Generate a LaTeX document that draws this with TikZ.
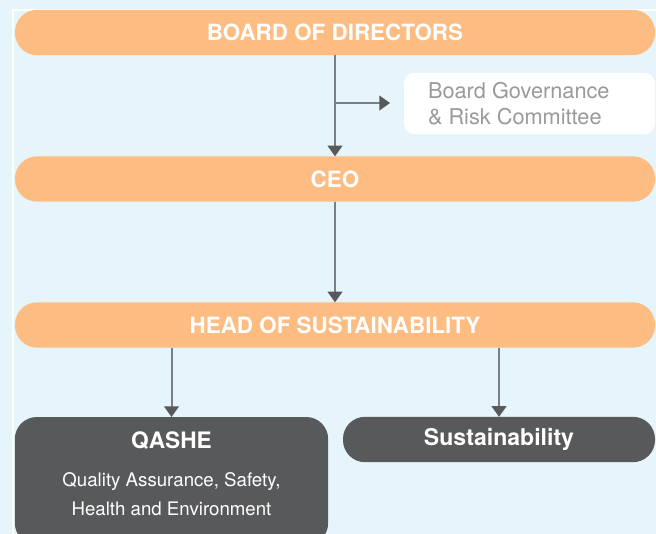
\documentclass[tikz,border=0pt]{standalone}
\usepackage{fontspec}
\setmainfont{TeX Gyre Heros}
\usetikzlibrary{arrows.meta}
\definecolor{skyback}{HTML}{E6F5FC}
\definecolor{orangebar}{HTML}{FCBC82}
\definecolor{darkbox}{HTML}{58595B}
\definecolor{linegray}{HTML}{7A7F85}
\definecolor{govtext}{HTML}{9A9A9A}
\begin{document}
\begin{tikzpicture}[
  x=0.75pt, y=-0.75pt,
  every node/.style={inner sep=0pt, outer sep=0pt, font=\fontsize{13.5}{16}\selectfont},
  bar/.style={fill=orangebar, rounded corners=16.5pt, minimum width=480pt,
    minimum height=34pt, text=white, font=\fontsize{16.8}{20}\selectfont\bfseries},
  unit/.style={fill=darkbox, rounded corners=16.5pt, text=white},
  link/.style={draw=linegray, line width=1.5pt,
    -{Triangle[width=11pt, length=8pt, color=darkbox]}}
]
% background and frame
\clip (0,0) rectangle (656,534);
\fill[skyback] (0,0) rectangle (656,534);
\draw[white, line width=0.8pt] (13,534) -- (13,10) -- (656,10);

% top levels
\node[bar] (board) at (335,32.5) {BOARD OF DIRECTORS};
\node[bar] (ceo) at (335,179) {CEO};
\node[bar] (head) at (335,325) {HEAD OF SUSTAINABILITY};

% committee
\node[fill=white, rounded corners=7.5pt, minimum width=188pt, minimum height=46pt]
  (gov) at (529.5,103.5) {};
\node[anchor=west, align=left, text=govtext, font=\fontsize{16.3}{19.5}\selectfont]
  (govtext) at (428,104) {Board Governance\\\& Risk Committee};

% units
\node[unit, minimum width=235pt, minimum height=96pt] (qashe) at (171.5,481) {};
\node[text=white, font=\fontsize{17}{20}\selectfont\bfseries] (qashetitle) at (171.5,441) {QASHE};
\node[text=white, align=center, font=\fontsize{14}{21.75}\selectfont]
  (qashetext) at (171.5,494) {Quality Assurance, Safety,\\Health and Environment};
\node[unit, minimum width=234pt, minimum height=34pt,
  font=\fontsize{17.3}{20}\selectfont\bfseries] (sust) at (499,439.5) {Sustainability};

% connectors
\coordinate (split) at (335,103);
\coordinate (govin) at (390,103);
\draw[link] (board.south) -- (ceo.north);
\draw[link] (split) -- (govin);
\draw[link] (ceo.south) -- (head.north);
\draw[link] (head.south -| qashe.north) -- (qashe.north);
\draw[link] (head.south -| 499,0) -- (sust.north);
\end{tikzpicture}
\end{document}
